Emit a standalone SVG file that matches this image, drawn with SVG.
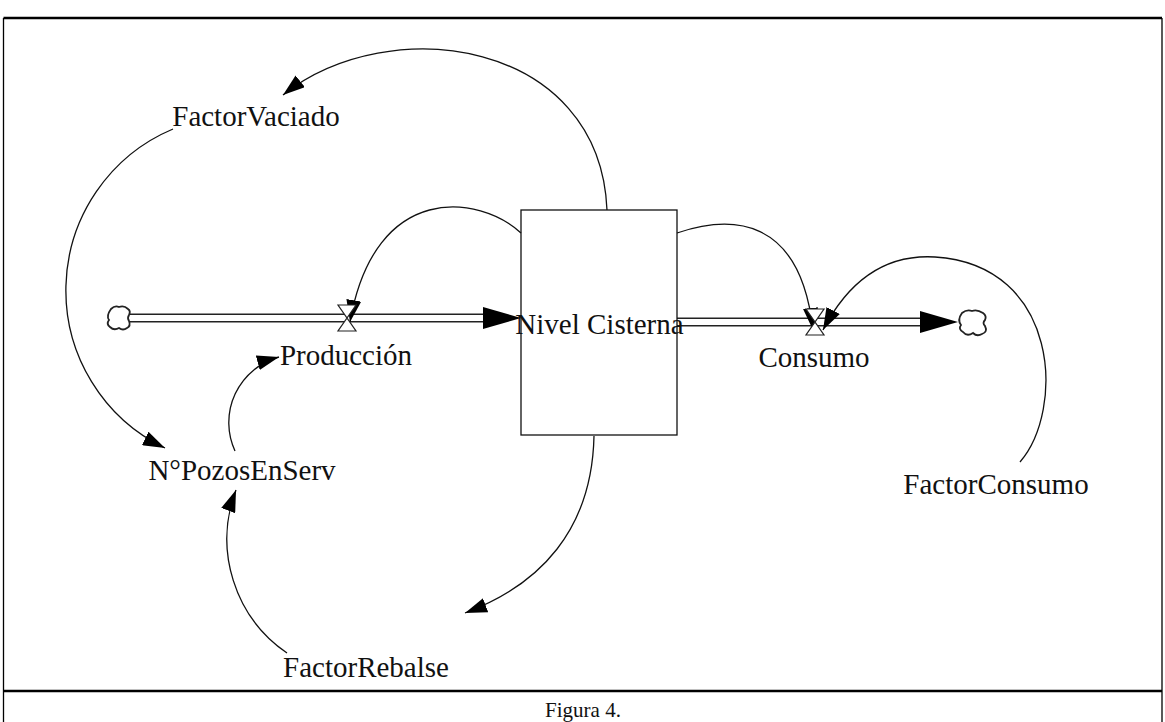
<svg xmlns="http://www.w3.org/2000/svg" width="1165" height="722" viewBox="0 0 1165 722">
<style>
.lbl{font-family:"Liberation Serif","Times New Roman",serif;font-size:29px;fill:#111;text-anchor:middle}
.cap{font-family:"Liberation Serif","Times New Roman",serif;font-size:21px;fill:#111;text-anchor:middle}
.link{fill:none;stroke:#111;stroke-width:1.3;marker-end:url(#ah)}
.pipeO{fill:none;stroke:#222;stroke-width:9}
.pipeI{fill:none;stroke:#fff;stroke-width:6}
.valve{fill:#fff;stroke:#222;stroke-width:1.2}
.cloud{fill:#fff;stroke:#222;stroke-width:1.8}
.head{fill:#000}
</style>
<defs>
<marker id="ah" markerUnits="userSpaceOnUse" markerWidth="22" markerHeight="15" refX="22" refY="7.5" orient="auto">
<path d="M0,0 L22,7.5 L0,15 Z" fill="#000"/>
</marker>
</defs>
<rect x="0" y="0" width="1165" height="722" fill="#fff"/>
<g id="frame" fill="none" stroke="#000">
<line x1="3.5" y1="18" x2="1162" y2="18" stroke-width="2.5"/>
<line x1="3.5" y1="18" x2="3.5" y2="722" stroke-width="1.3"/>
<line x1="1162" y1="18" x2="1162" y2="722" stroke-width="1.3"/>
<line x1="3.5" y1="691" x2="1162" y2="691" stroke-width="2.5"/>
</g>
<g id="caption"><text class="cap" x="583" y="717">Figura 4.</text></g>

<g id="flows">
<g id="pipe-in">
<path class="pipeO" d="M127,318 H484"/>
<path class="pipeI" d="M126,318 H485"/>
<polygon class="head" points="483,307 521,318 483,329"/>
</g>
<g id="pipe-out">
<path class="pipeO" d="M677,322 H921"/>
<path class="pipeI" d="M677,322 H922"/>
<polygon class="head" points="920,311 958,322 920,333"/>
</g>
</g>

<g id="cloud-left"><path class="cloud" d="M111,309 q4,-4 8,-2 q5,-2 9,2 q3,2 1,6 q-2,3 0,6 q2,5 -2,7 q-4,3 -8,0 q-5,3 -9,-1 q-4,-3 -1,-7 q-3,-4 2,-11 z"/></g>
<g id="cloud-right"><path class="cloud" d="M962,313 q5,-4 10,-2 q5,-2 11,2 q4,3 2,7 q-3,3 0,6 q3,6 -3,8 q-5,3 -9,-1 q-6,4 -10,-1 q-5,-3 -2,-7 q-4,-5 1,-12 z"/></g>

<g id="stock-nivel-cisterna">
<rect x="521" y="210" width="156" height="225" fill="#fff" stroke="#111" stroke-width="1.3"/>
</g>

<g id="connectors">
<path class="link" d="M607,210 C600,40 390,10 283,95"/>
<path class="link" d="M173,129 A175,175 0 0 0 165,448"/>
<path class="link" d="M235,451 A68,68 0 0 1 279,357"/>
<path class="link" d="M287,653 A138,138 0 0 1 236,490"/>
<path class="link" d="M594,436 C592,530 540,585 465,613"/>
<path class="link" d="M521,233 C480,195 375,180 350,322"/>
<path class="link" d="M677,233 C730,215 800,215 813,330"/>
<path class="link" d="M1020,462 C1065,410 1060,265 935,257 C885,254 848,282 823,330"/>
</g>

<g id="valve-produccion"><polygon class="valve" points="338,305 356,305 338,331 356,331"/></g>
<g id="valve-consumo"><polygon class="valve" points="806,309 824,309 806,335 824,335"/></g>

<g id="node-nivel-cisterna"><text class="lbl" x="599.5" y="334">Nivel Cisterna</text></g>
<g id="node-factor-vaciado"><text class="lbl" x="256" y="126">FactorVaciado</text></g>
<g id="node-produccion"><text class="lbl" x="346" y="365">Producción</text></g>
<g id="node-consumo"><text class="lbl" x="814" y="367">Consumo</text></g>
<g id="node-pozos"><text class="lbl" x="242" y="480">N°PozosEnServ</text></g>
<g id="node-factor-rebalse"><text class="lbl" x="366" y="677">FactorRebalse</text></g>
<g id="node-factor-consumo"><text class="lbl" x="996" y="494">FactorConsumo</text></g>
</svg>
